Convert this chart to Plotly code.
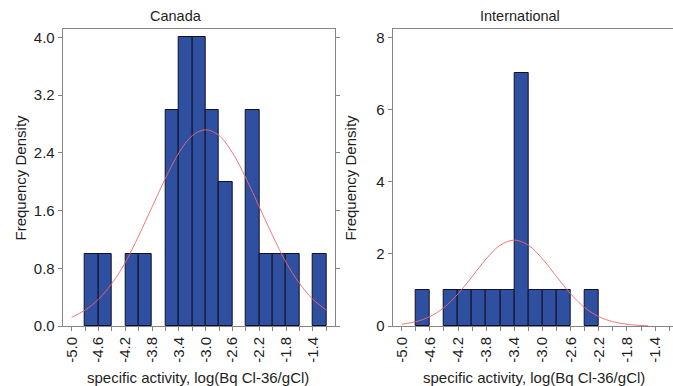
import plotly.graph_objects as go
from plotly.subplots import make_subplots

# Histogram bins (centres, width 0.2) and bar heights
canada_bins = [-4.7, -4.5, -4.1, -3.9, -3.5, -3.3, -3.1, -2.9, -2.7, -2.3, -2.1, -1.9, -1.7, -1.3]
canada_heights = [1, 1, 1, 1, 3, 4, 4, 3, 2, 3, 1, 1, 1, 1]

intl_bins = [-4.7, -4.3, -4.1, -3.9, -3.7, -3.5, -3.3, -3.1, -2.9, -2.7, -2.3]
intl_heights = [1, 1, 1, 1, 1, 1, 7, 1, 1, 1, 1]

# Fitted normal density curves
canada_curve_x = [-5.0, -4.8, -4.6, -4.4, -4.2, -4.0, -3.8, -3.6, -3.4, -3.2, -3.0,
                  -2.8, -2.6, -2.4, -2.2, -2.0, -1.8, -1.6, -1.4, -1.2]
canada_curve_y = [0.12, 0.22, 0.37, 0.59, 0.88, 1.25, 1.65, 2.05, 2.40, 2.64, 2.72,
                  2.64, 2.40, 2.05, 1.65, 1.25, 0.88, 0.59, 0.37, 0.22]

intl_curve_x = [-5.0, -4.8, -4.6, -4.4, -4.2, -4.0, -3.8, -3.6, -3.4, -3.2, -3.0,
                -2.8, -2.6, -2.4, -2.2, -2.0, -1.8, -1.6, -1.5]
intl_curve_y = [0.05, 0.12, 0.26, 0.51, 0.89, 1.37, 1.86, 2.24, 2.38, 2.24, 1.86,
                1.37, 0.89, 0.51, 0.26, 0.12, 0.05, 0.015, 0.008]

bin_width = 0.2

# Axis ticks: a mark every 0.2, a label every 0.4
x_tick_vals = [-5.0, -4.8, -4.6, -4.4, -4.2, -4.0, -3.8, -3.6, -3.4, -3.2, -3.0,
               -2.8, -2.6, -2.4, -2.2, -2.0, -1.8, -1.6, -1.4, -1.2]
x_tick_text = ["-5.0", "", "-4.6", "", "-4.2", "", "-3.8", "", "-3.4", "", "-3.0",
               "", "-2.6", "", "-2.2", "", "-1.8", "", "-1.4", ""]
canada_y_ticks = [0.0, 0.8, 1.6, 2.4, 3.2, 4.0]
intl_y_ticks = [0, 2, 4, 6, 8]

panel_titles = ["Canada", "International"]
x_title = "specific activity, log(Bq Cl-36/gCl)"
y_title = "Frequency Density"

BAR_COLOR = "#2f4fa1"
CURVE_COLOR = "#f06a6a"
AXIS_COLOR = "#858585"
TEXT_COLOR = "#1e1e1e"
FONT = "Liberation Sans, Arial, sans-serif"

fig = make_subplots(rows=1, cols=2)

for col, (bx, by, cx, cy) in enumerate(
    [(canada_bins, canada_heights, canada_curve_x, canada_curve_y),
     (intl_bins, intl_heights, intl_curve_x, intl_curve_y)], start=1):
    fig.add_trace(go.Bar(x=bx, y=by, width=bin_width,
                         marker=dict(color=BAR_COLOR, line=dict(color="#111122", width=1)),
                         showlegend=False), row=1, col=col)
    fig.add_trace(go.Scatter(x=cx, y=cy, mode="lines",
                             line=dict(color=CURVE_COLOR, width=0.9, shape="spline"),
                             showlegend=False), row=1, col=col)

W, H = 673, 386
top, bottom = 29.3, 326.0
left_dom = [62.7 / W, 335.3 / W]
right_dom = [392.7 / W, 1.0]

common_x = dict(tickmode="array", tickvals=x_tick_vals, ticktext=x_tick_text,
                tickangle=-90, ticks="outside", ticklen=4, tickcolor=AXIS_COLOR,
                showline=True, linecolor=AXIS_COLOR, linewidth=1, mirror=True,
                showgrid=False, zeroline=False,
                tickfont=dict(family=FONT, size=15, color=TEXT_COLOR))
common_y = dict(ticks="outside", ticklen=4, tickcolor=AXIS_COLOR,
                showline=True, linecolor=AXIS_COLOR, linewidth=1,
                showgrid=False, zeroline=False,
                tickfont=dict(family=FONT, size=15, color=TEXT_COLOR))

fig.update_xaxes(common_x, row=1, col=1, domain=left_dom, range=[-5.134, -1.066])
fig.update_xaxes(common_x, row=1, col=2, domain=right_dom, range=[-5.128, -1.146])
fig.update_yaxes(common_y, row=1, col=1, range=[0, 4.117], tickmode="array",
                 tickvals=canada_y_ticks, ticktext=[f"{v:.1f}" for v in canada_y_ticks],
                 mirror="ticks")
fig.update_yaxes(common_y, row=1, col=2, range=[0, 8.233], tickmode="array",
                 tickvals=intl_y_ticks, ticktext=[str(v) for v in intl_y_ticks],
                 mirror=False)

def py(px):
    """Convert a pixel row to paper y."""
    return (bottom - px) / (bottom - top)

annotations = [
    dict(text=panel_titles[0], x=176 / W, y=py(16)),
    dict(text=panel_titles[1], x=519.5 / W, y=py(16)),
    dict(text=x_title, x=198.3 / W, y=py(377)),
    dict(text=x_title, x=534 / W, y=py(377)),
    dict(text=y_title, x=20 / W, y=0.5, textangle=-90),
    dict(text=y_title, x=350 / W, y=0.5, textangle=-90),
]
for a in annotations:
    a.update(xref="paper", yref="paper", showarrow=False,
             xanchor="center", yanchor="middle",
             font=dict(family=FONT, size=15, color=TEXT_COLOR))
annotations[0]["font"]["size"] = 14.5
annotations[1]["font"]["size"] = 14.5

fig.update_layout(
    width=W, height=H,
    margin=dict(l=0, r=0, t=top, b=H - bottom),
    paper_bgcolor="white", plot_bgcolor="white",
    bargap=0, annotations=annotations,
    font=dict(family=FONT, color=TEXT_COLOR),
)

fig.write_html("out.html")
